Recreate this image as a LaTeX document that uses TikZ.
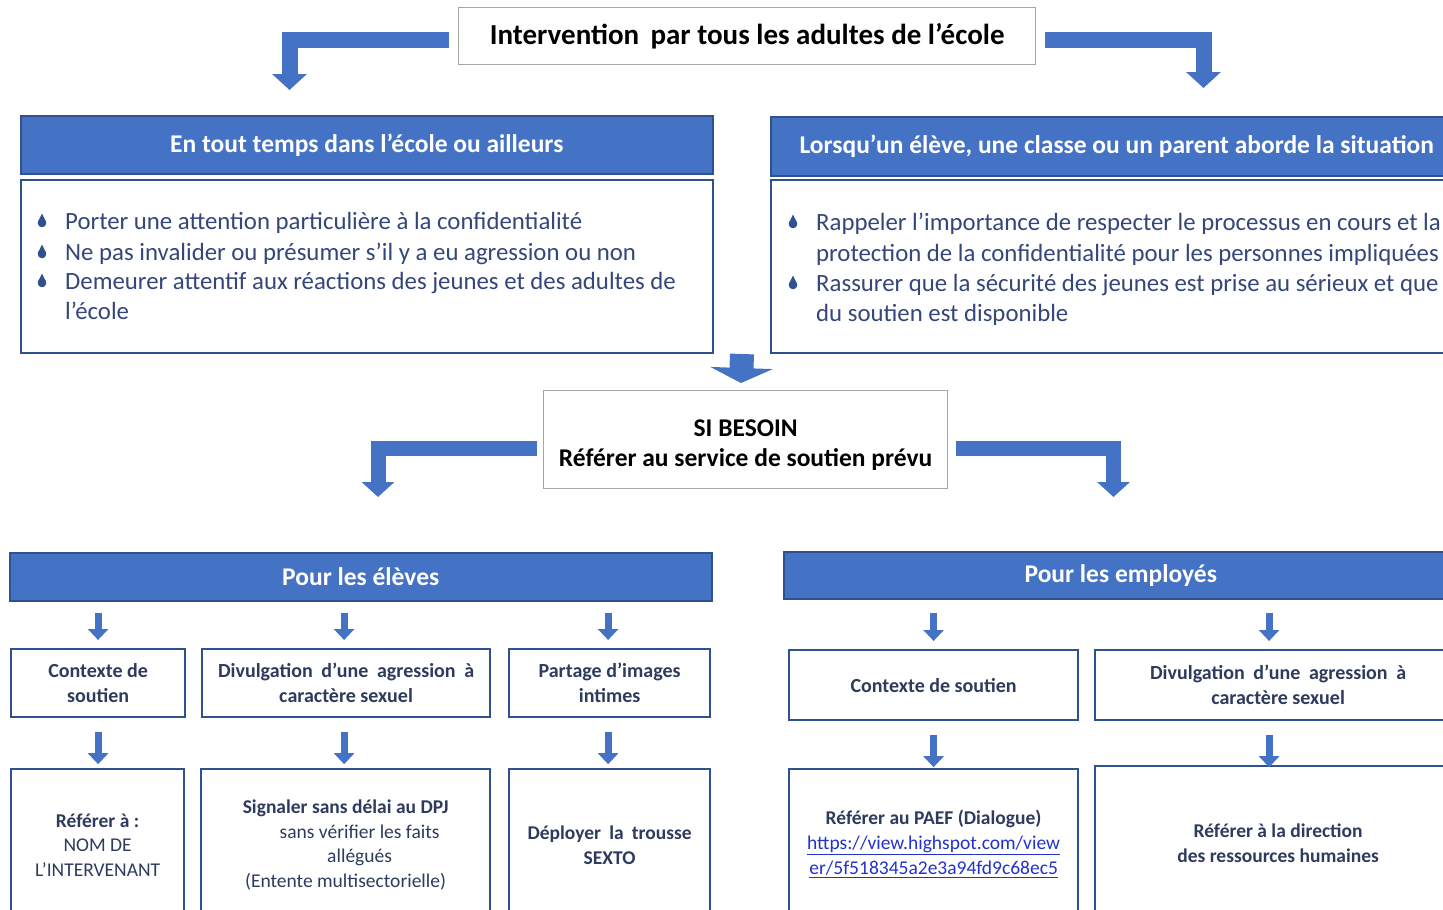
\documentclass[tikz,border=0pt]{standalone}
\usepackage{fontspec}
\setmainfont{Carlito}
\usetikzlibrary{arrows.meta,calc}
\definecolor{hblue}{HTML}{4472C4}
\definecolor{bdark}{HTML}{2F528F}
\definecolor{btext}{HTML}{34467A}
\definecolor{stext}{HTML}{2E3B5E}
\definecolor{lnk}{HTML}{2233CC}
\definecolor{gbord}{HTML}{A6A6A6}
\newcommand\dropbul[2]{%
  \fill[bdark] (#1,#2+2) circle (4.3);
  \fill[bdark] (#1-4.1,#2+0.8) -- (#1,#2-7.5) -- (#1+4.1,#2+0.8) -- cycle;}
\begin{document}
\begin{tikzpicture}[x=1pt,y=-1pt,
 hdr/.style={draw=bdark, line width=1.5pt, fill=hblue, text=white,
   font=\fontsize{25.5}{30}\selectfont\bfseries, anchor=north west, inner sep=0pt},
 bodybox/.style={draw=bdark, line width=2pt, fill=white, anchor=north west, inner sep=0pt},
 gbox/.style={draw=gbord, line width=1.3pt, fill=white, anchor=north west,
   inner sep=0pt, align=center, text=black},
 sbox/.style={draw=bdark, line width=2.2pt, fill=white, anchor=north west,
   inner sep=0pt, align=center, text=stext, font=\fontsize{20}{25}\selectfont\bfseries},
 rbox/.style={draw=bdark, line width=2.2pt, fill=white, anchor=north west,
   inner sep=0pt, align=center, text=stext, font=\fontsize{19.5}{24.5}\selectfont},
 bul/.style={anchor=base west, inner sep=0pt, text=btext, font=\fontsize{24.8}{30}\selectfont},
 bigarrow/.style={draw=hblue, line width=16pt, -{Triangle[length=16pt,width=34pt]}},
 bigarrowb/.style={draw=hblue, line width=15pt, -{Triangle[length=15pt,width=32pt]}},
 midarrow/.style={draw=hblue, line width=24pt, -{Triangle[length=15pt,width=62pt]}},
 smallarrow/.style={draw=hblue, line width=7pt, -{Triangle[length=11pt,width=20pt]}},
]
\useasboundingbox (0,0) rectangle (1443,910);
\clip (0,0) rectangle (1443,910);

% top box
\node[gbox, minimum width=577pt, minimum height=57pt,
  font=\fontsize{29}{32}\selectfont\bfseries] (top) at (458,7)
  {Intervention\, par tous les adultes de l’école};
\coordinate (c1) at (289.5,90);
\coordinate (c2) at (1203.5,88);
\draw[bigarrow] ($(top.west)+(-9,3.5)$) -| (c1);
\draw[bigarrow] ($(top.east)+(9,3.5)$) -| (c2);

% headers and bodies
\node[hdr, minimum width=692pt, minimum height=58pt] (h1) at (20,115)
  {En tout temps dans l’école ou ailleurs};
\node[bodybox, minimum width=692pt, minimum height=173pt] (b1) at (20,179) {};
\node[hdr, minimum width=692pt, minimum height=59pt] (h2) at (770,116)
  {Lorsqu’un élève, une classe ou un parent aborde la situation};
\node[bodybox, minimum width=692pt, minimum height=173pt] (b2) at (770,179) {};

\dropbul{42}{221}\dropbul{42}{252}\dropbul{42}{281}
\node[bul] (l1) at (65,229) {Porter une attention particulière à la confidentialité};
\node[bul] (l2) at (65,260) {Ne pas invalider ou présumer s’il y a eu agression ou non};
\node[bul] (l3) at (65,289) {Demeurer attentif aux réactions des jeunes et des adultes de};
\node[bul] (l4) at (65,319) {l’école};

\dropbul{793}{222}\dropbul{793}{283}
\node[bul] (m1) at (816,230) {Rappeler l’importance de respecter le processus en cours et la};
\node[bul] (m2) at (816,261) {protection de la confidentialité pour les personnes impliquées};
\node[bul] (m3) at (816,291) {Rassurer que la sécurité des jeunes est prise au sérieux et que};
\node[bul] (m4) at (816,321) {du soutien est disponible};

% middle arrow and SI BESOIN
\coordinate (c5) at (741,383);
\draw[midarrow] ($(b1.south east)!0.5!(b2.south west)$) -- (c5);
\node[gbox, minimum width=404pt, minimum height=98pt] (si) at (543,390) {};
\node[align=center, inner sep=0pt, font=\fontsize{25.5}{30}\selectfont\bfseries] (sit)
  at ($(si.center)+(0,5)$) {SI BESOIN\\Référer au service de soutien prévu};
\coordinate (c3) at (378,497);
\coordinate (c4) at (1113.5,497);
\draw[bigarrowb] ($(si.west)+(-6,8.5)$) -| (c3);
\draw[bigarrowb] ($(si.east)+(8,8.5)$) -| (c4);

% lower headers
\node[hdr, minimum width=702pt, minimum height=48pt] (h3) at (9,552) {Pour les élèves};
\node[hdr, minimum width=674pt, minimum height=47pt] (h4) at (783,551) {Pour les employés};

% row 1 boxes
\node[sbox, minimum width=174pt, minimum height=68pt] (s1) at (10,648) {Contexte de\\soutien};
\node[sbox, minimum width=288pt, minimum height=68pt] (s2) at (201,648)
  {\makebox[256pt][s]{Divulgation d’une agression à}\\caractère sexuel};
\node[sbox, minimum width=201pt, minimum height=68pt] (s3) at (508,648) {Partage d’images\\intimes};
\node[sbox, minimum width=289pt, minimum height=70pt] (s4) at (788,649) {Contexte de soutien};
\node[sbox, minimum width=366pt, minimum height=70pt] (s5) at (1094,649)
  {\makebox[256pt][s]{Divulgation d’une agression à}\\caractère sexuel};

% row 2 boxes
\node[rbox, minimum width=173pt, minimum height=152pt] (r1) at (10,768)
  {\textbf{Référer à~:}\\NOM DE\\L’INTERVENANT};
\node[rbox, minimum width=289pt, minimum height=152pt] (r2) at (200,768)
  {\textbf{Signaler sans délai au DPJ}\\\hspace*{28pt}sans vérifier les faits\\\hspace*{28pt}allégués\\(Entente multisectorielle)};
\node[rbox, minimum width=201pt, minimum height=152pt, font=\fontsize{19.5}{24.5}\selectfont\bfseries] (r3) at (508,768)
  {\makebox[164pt][s]{Déployer la trousse}\\SEXTO};
\node[rbox, minimum width=289pt, minimum height=150pt, font=\fontsize{19.5}{25}\selectfont] (r4) at (788,768)
  {\textbf{Référer au PAEF (Dialogue)}\\{\color{lnk}\underline{https://view.highspot.com/view}}\\{\color{lnk}\underline{er/5f518345a2e3a94fd9c68ec5}}};
\node[rbox, minimum width=366pt, minimum height=155pt, font=\fontsize{19.5}{25}\selectfont\bfseries] (r5) at (1094,765)
  {Référer à la direction\\des ressources humaines};

% small arrows
\foreach \s/\r/\dx in {s1/r1/0, s2/r2/-2, s3/r3/-1.5, s4/r4/0, s5/r5/-9}{
  \draw[smallarrow, shorten <=11pt, shorten >=8pt] ($(h3.south -| \s.north)+(\dx,0)$) -- ($(\s.north)+(\dx,0)$);
  \draw[smallarrow, shorten <=14pt, shorten >=6pt] ($(\s.south)+(\dx,0)$) -- ($(\s.south)+(\dx,52)$);
}
\end{tikzpicture}
\end{document}
